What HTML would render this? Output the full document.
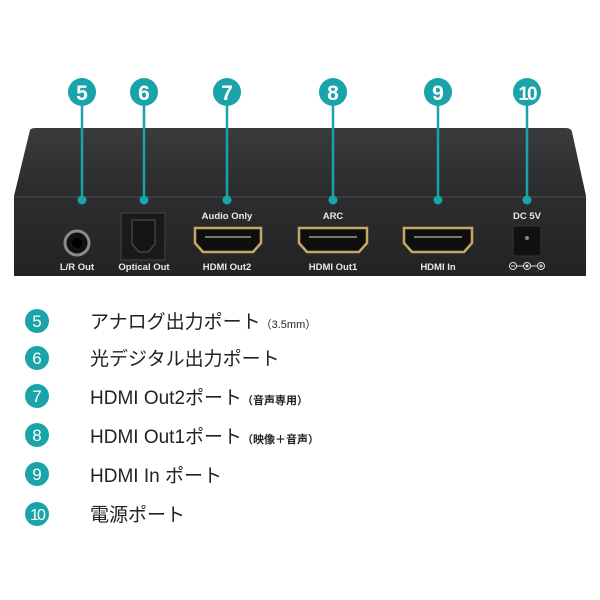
<!DOCTYPE html>
<html><head><meta charset="utf-8"><style>
body{margin:0;width:600px;height:600px;background:#fff;overflow:hidden;font-family:"Liberation Sans","Noto Sans CJK JP",sans-serif}
</style></head><body>
<svg width="600" height="600" xmlns="http://www.w3.org/2000/svg" style="position:absolute;left:0;top:0">
<defs>
<linearGradient id="top" x1="0" y1="0" x2="0" y2="1"><stop offset="0" stop-color="#3a3b3d"/><stop offset="1" stop-color="#2a2b2d"/></linearGradient>
<linearGradient id="front" x1="0" y1="0" x2="0" y2="1"><stop offset="0" stop-color="#2c2d2f"/><stop offset="1" stop-color="#222325"/></linearGradient>
</defs>
<path d="M30 130 Q31 128 36 128 L566 128 Q571 128 572 132 L586 196 L14 196 Z" fill="url(#top)"/>
<rect x="14" y="196" width="572" height="80" fill="url(#front)"/>
<line x1="14" y1="197" x2="586" y2="197" stroke="#4a4b4d" stroke-width="1"/>
<g stroke="#1aa3a8" stroke-width="2.5">
<line x1="82" y1="100" x2="82" y2="200"/><line x1="144" y1="100" x2="144" y2="200"/>
<line x1="227" y1="100" x2="227" y2="200"/><line x1="333" y1="100" x2="333" y2="200"/>
<line x1="438" y1="100" x2="438" y2="200"/><line x1="527" y1="100" x2="527" y2="200"/>
</g>
<g fill="#1aa3a8">
<circle cx="82" cy="200" r="4.5"/><circle cx="144" cy="200" r="4.5"/><circle cx="227" cy="200" r="4.5"/>
<circle cx="333" cy="200" r="4.5"/><circle cx="438" cy="200" r="4.5"/><circle cx="527" cy="200" r="4.5"/>
<circle cx="82" cy="92" r="14"/><circle cx="144" cy="92" r="14"/><circle cx="227" cy="92" r="14"/>
<circle cx="333" cy="92" r="14"/><circle cx="438" cy="92" r="14"/><circle cx="527" cy="92" r="14"/>
</g>
<g fill="#fff" font-size="21" font-weight="bold" text-anchor="middle" font-family="Liberation Sans,sans-serif">
<text x="82" y="100">5</text><text x="144" y="100">6</text><text x="227" y="100">7</text>
<text x="333" y="100">8</text><text x="438" y="100">9</text><text x="527" y="100" font-size="19" letter-spacing="-2">10</text>
</g>
<circle cx="77" cy="243" r="12" fill="#111" stroke="#8a8a8a" stroke-width="3"/>
<circle cx="77" cy="243" r="5" fill="#000"/>
<rect x="121" y="213" width="44" height="47" fill="#1a1a1a" stroke="#444" stroke-width="1"/>
<path d="M132 220 L155 220 L155 244 L148 252 L139 252 L132 244 Z" fill="#151515" stroke="#555"/>
<g fill="#0e0e0e" stroke="#c8a860" stroke-width="2.5">
<path d="M195 228 L261 228 L261 243 L253 252 L203 252 L195 243 Z"/>
<path d="M299 228 L367 228 L367 243 L359 252 L307 252 L299 243 Z"/>
<path d="M404 228 L472 228 L472 243 L464 252 L412 252 L404 243 Z"/>
</g>
<g stroke="#777" stroke-width="2"><line x1="205" y1="237" x2="251" y2="237"/><line x1="309" y1="237" x2="357" y2="237"/><line x1="414" y1="237" x2="462" y2="237"/></g>
<rect x="513" y="226" width="28" height="30" rx="3" fill="#111" stroke="#333"/>
<circle cx="527" cy="238" r="2" fill="#888"/>
<g fill="#e8e8e8" font-size="9.5" font-weight="bold" text-anchor="middle">
<text x="77" y="270">L/R Out</text><text x="144" y="270">Optical Out</text>
<text x="227" y="219">Audio Only</text><text x="227" y="270">HDMI Out2</text>
<text x="333" y="219">ARC</text><text x="333" y="270">HDMI Out1</text>
<text x="438" y="270">HDMI In</text><text x="527" y="219">DC 5V</text>
</g>
<g stroke="#ddd" stroke-width="1" fill="none">
<circle cx="513" cy="266" r="3.5"/><circle cx="527" cy="266" r="3.5"/><circle cx="541" cy="266" r="3.5"/>
<line x1="516" y1="266" x2="524" y2="266"/><line x1="530" y1="266" x2="538" y2="266"/>
<line x1="511" y1="266" x2="515" y2="266"/><line x1="539" y1="266" x2="543" y2="266"/><line x1="541" y1="264" x2="541" y2="268"/>
</g>
<circle cx="527" cy="266" r="1.5" fill="#ddd"/>
<g fill="#1aa3a8">
<circle cx="37" cy="321" r="12"/><circle cx="37" cy="358" r="12"/><circle cx="37" cy="396" r="12"/>
<circle cx="37" cy="435" r="12"/><circle cx="37" cy="474" r="12"/><circle cx="37" cy="514" r="12"/>
</g>
<g fill="#fff" font-size="17" text-anchor="middle">
<text x="37" y="327">5</text><text x="37" y="364">6</text><text x="37" y="402">7</text>
<text x="37" y="441">8</text><text x="37" y="480">9</text><text x="37" y="520" font-size="16" letter-spacing="-2">10</text>
</g>
<g fill="#222" font-size="19">
<text x="90" y="328">アナログ出力ポート<tspan font-size="11">（3.5mm）</tspan></text>
<text x="90" y="365">光デジタル出力ポート</text>
<text x="90" y="404">HDMI Out2ポート<tspan font-size="11" font-weight="bold">（音声専用）</tspan></text>
<text x="90" y="443">HDMI Out1ポート<tspan font-size="11" font-weight="bold">（映像＋音声）</tspan></text>
<text x="90" y="482">HDMI In ポート</text>
<text x="90" y="521">電源ポート</text>
</g>
</svg>
</body></html>
